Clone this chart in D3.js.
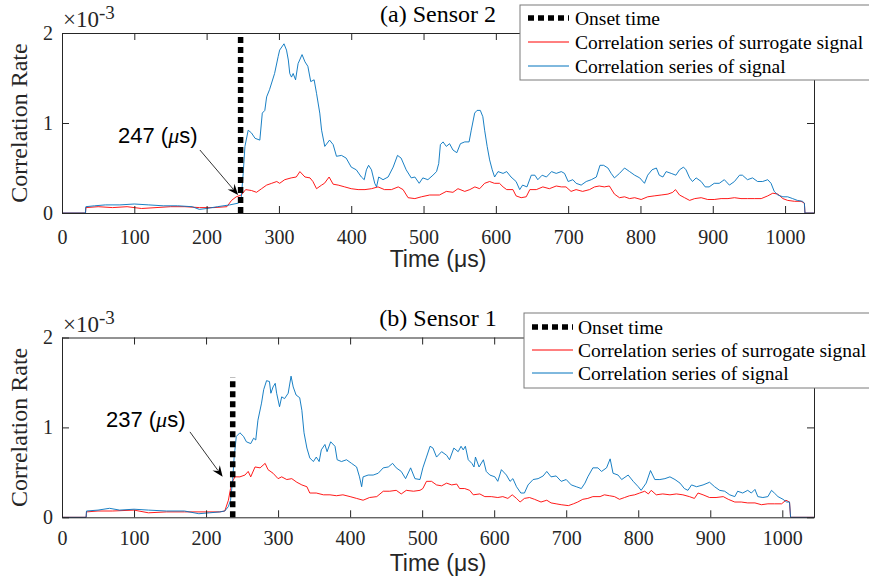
<!DOCTYPE html>
<html>
<head>
<meta charset="utf-8">
<script src="https://cdn.jsdelivr.net/npm/d3@7/dist/d3.min.js"></script>
<style>
  html, body { margin: 0; padding: 0; background: #fff; }
  svg { display: block; }
</style>
</head>
<body>
<svg id="chart" width="869" height="583"></svg>
<script>
// ---------------- DATA (values in units of 1e-3) ----------------
const xTicks = [0, 100, 200, 300, 400, 500, 600, 700, 800, 900, 1000];
const yTicks = [0, 1, 2];
const panelTitles = ["(a) Sensor 2", "(b) Sensor 1"];
const onsetTimes = [247, 237];
const onsetTops = [2, 1.56];
const legendLabels = ["Onset time", "Correlation series of surrogate signal", "Correlation series of signal"];

// Sensor 2 : correlation series of signal
const s2Signal = [[0,0],[32.5,0],[33,0.07],[45,0.08],[60,0.09],[80,0.09],[100,0.10],[120,0.09],[140,0.08],[160,0.08],[180,0.07],[190,0.04],[200,0.05],[215,0.07],[232,0.09],[244,0.11],[248,0.18],[250.6,0.44],[253,0.74],[257.5,0.92],[262,0.89],[267,0.83],[273.6,0.81],[277,1.11],[280.5,1.14],[283,1.29],[287,1.37],[294,1.55],[299,1.74],[301,1.81],[307,1.88],[310.5,1.81],[313,1.70],[315,1.55],[317.4,1.51],[319.7,1.55],[323,1.48],[326.5,1.66],[332,1.76],[336,1.68],[340,1.63],[344,1.46],[348.7,1.48],[352,1.33],[356.5,1.11],[359,0.92],[363.4,0.74],[370,0.81],[375,0.76],[379.6,0.63],[386.5,0.64],[393,0.61],[400,0.51],[407,0.48],[414,0.40],[418,0.37],[421,0.48],[424,0.53],[428,0.48],[432.5,0.33],[435,0.29],[438,0.40],[444,0.37],[451,0.40],[458,0.51],[464,0.64],[469,0.61],[476,0.48],[483,0.39],[488,0.40],[494,0.33],[499,0.39],[506,0.37],[513,0.42],[518,0.46],[521,0.55],[523.3,0.76],[527,0.79],[531.5,0.74],[536,0.77],[540.7,0.70],[546,0.67],[551,0.77],[557,0.79],[563,0.79],[566,0.92],[570.7,1.11],[574,1.14],[578.5,1.14],[582,1.07],[584.5,0.92],[588,0.74],[591.4,0.59],[595,0.48],[598.3,0.40],[603,0.46],[610,0.44],[615,0.46],[621,0.40],[628,0.35],[633,0.26],[637,0.31],[643,0.29],[649,0.42],[654,0.42],[658,0.37],[664,0.42],[670,0.40],[677,0.46],[683.5,0.44],[690.5,0.46],[695,0.44],[700,0.35],[706.5,0.37],[711,0.33],[718,0.31],[725,0.35],[732,0.37],[739,0.40],[744,0.53],[749,0.53],[755,0.50],[759.5,0.44],[764,0.39],[771,0.44],[778,0.50],[785,0.46],[792,0.42],[799,0.39],[805.6,0.33],[810,0.42],[816,0.48],[822,0.50],[826,0.42],[831,0.40],[835.5,0.46],[842.5,0.44],[849,0.42],[854,0.48],[859.5,0.51],[863,0.48],[868,0.39],[872,0.35],[877,0.39],[884,0.35],[889.5,0.29],[895,0.29],[902,0.33],[909,0.33],[916,0.37],[923,0.31],[930,0.35],[937,0.42],[941,0.42],[948,0.37],[955,0.39],[962,0.35],[969,0.35],[976,0.37],[980.6,0.33],[985,0.24],[990,0.20],[997,0.18],[1003.6,0.18],[1010.5,0.16],[1017,0.14],[1024,0.13],[1026.7,0.11],[1027.5,0],[1040,0]];

// Sensor 2 : correlation series of surrogate signal
const s2Surrogate = [[0,0],[32.5,0],[33,0.06],[50,0.07],[70,0.06],[90,0.07],[110,0.05],[130,0.06],[150,0.07],[170,0.07],[190,0.06],[210,0.06],[228,0.07],[234.5,0.14],[241,0.18],[248,0.20],[254,0.26],[262,0.25],[269,0.23],[276,0.27],[283,0.31],[290,0.33],[297,0.35],[301,0.33],[308,0.37],[317,0.39],[324,0.40],[329,0.46],[336,0.40],[343,0.39],[347,0.35],[352,0.27],[359,0.31],[363,0.33],[369.4,0.40],[375,0.32],[382,0.31],[391,0.29],[400,0.27],[409.5,0.26],[419,0.26],[428,0.27],[437,0.29],[446,0.26],[455.6,0.26],[465,0.29],[471.7,0.26],[478.6,0.17],[488,0.16],[497,0.18],[508.5,0.20],[522,0.20],[531.5,0.24],[540.7,0.23],[547.6,0.27],[557,0.24],[564,0.26],[571,0.29],[577.6,0.27],[584.5,0.33],[591.4,0.35],[598,0.33],[605,0.33],[610,0.29],[615,0.26],[623.6,0.26],[628,0.19],[635,0.17],[642,0.18],[647,0.26],[656,0.26],[665,0.29],[674,0.27],[683.5,0.30],[690.5,0.29],[697,0.29],[704,0.24],[711,0.26],[720,0.24],[729.6,0.26],[736.5,0.29],[743,0.30],[750,0.29],[757,0.30],[764,0.21],[771,0.17],[778,0.18],[785,0.16],[792,0.17],[801,0.15],[810,0.18],[819,0.19],[828.6,0.20],[838,0.21],[844.7,0.23],[848.4,0.26],[854,0.20],[861,0.17],[868,0.14],[875,0.16],[884,0.17],[893,0.15],[902,0.15],[911.5,0.16],[921,0.16],[930,0.17],[939,0.16],[948,0.16],[957.5,0.16],[967,0.16],[976,0.19],[983,0.22],[990,0.21],[997,0.16],[1003.6,0.14],[1013,0.13],[1022,0.13],[1026.7,0.11],[1027.5,0],[1040,0]];

// Sensor 1 : correlation series of signal
const s1Signal = [[0,0],[33.5,0],[34,0.07],[50,0.08],[66,0.10],[80,0.08],[100,0.09],[120,0.08],[145,0.07],[170,0.07],[190,0.04],[205,0.05],[219,0.06],[226,0.07],[231,0.12],[234,0.19],[237,0.42],[239,0.67],[242,0.90],[247,0.94],[252,0.90],[256,0.84],[262,0.82],[266,0.88],[269,0.86],[272,1.08],[277,1.27],[280,1.42],[284,1.52],[288,1.51],[290,1.38],[293,1.45],[296,1.49],[298,1.38],[302,1.23],[305,1.34],[309,1.32],[314,1.38],[318,1.57],[321,1.45],[325,1.36],[330,1.33],[333,1.19],[336,0.94],[340,0.77],[344,0.66],[349,0.62],[353,0.67],[357,0.62],[360,0.75],[365,0.81],[368,0.73],[373,0.84],[379,0.79],[382,0.64],[388,0.62],[395,0.64],[402,0.60],[409,0.56],[413,0.45],[416,0.34],[418,0.45],[425,0.47],[432,0.47],[439,0.49],[446,0.55],[453,0.56],[459,0.60],[464,0.55],[471,0.51],[477,0.43],[484,0.55],[490,0.43],[497,0.42],[501,0.55],[506,0.67],[511,0.79],[515,0.77],[520,0.67],[527,0.73],[534,0.69],[538,0.64],[544,0.77],[550,0.73],[554,0.79],[557,0.75],[560,0.79],[564,0.64],[569,0.60],[572,0.56],[574,0.67],[579,0.56],[585,0.64],[589,0.51],[594,0.47],[601,0.45],[605,0.40],[610,0.53],[617,0.47],[622,0.40],[626,0.43],[631,0.34],[637,0.27],[642,0.27],[647,0.36],[654,0.42],[661,0.43],[668,0.46],[673,0.51],[679,0.45],[686,0.46],[693,0.40],[700,0.42],[707,0.36],[714,0.34],[721,0.32],[726,0.38],[730,0.45],[737,0.55],[744,0.55],[749,0.51],[756,0.55],[761,0.65],[765,0.49],[772,0.47],[777,0.42],[786,0.47],[793,0.40],[800,0.34],[804,0.30],[811,0.38],[817,0.52],[823,0.42],[830,0.42],[837,0.43],[844,0.45],[851,0.42],[858,0.38],[864,0.32],[869,0.30],[874,0.36],[881,0.34],[890,0.36],[899,0.39],[906,0.34],[913,0.30],[920,0.29],[927,0.25],[934,0.23],[938,0.29],[945,0.27],[952,0.30],[957,0.27],[962,0.31],[966,0.23],[973,0.22],[980,0.23],[985,0.30],[989,0.27],[994,0.23],[1001,0.20],[1006,0.17],[1010,0.17],[1011.5,0],[1044,0]];

// Sensor 1 : correlation series of surrogate signal
const s1Surrogate = [[0,0],[33.5,0],[34,0.06],[50,0.07],[70,0.07],[100,0.08],[120,0.05],[145,0.06],[170,0.06],[200,0.06],[219,0.06],[226,0.07],[231,0.19],[234,0.32],[237,0.40],[240,0.45],[247,0.45],[254,0.47],[258.5,0.51],[262,0.45],[268,0.56],[275,0.55],[282,0.60],[286,0.53],[293,0.49],[300,0.43],[305,0.45],[312,0.42],[319,0.43],[326,0.39],[333,0.36],[340,0.34],[344,0.27],[353,0.27],[363,0.25],[372,0.25],[381,0.24],[390,0.25],[400,0.23],[409,0.21],[418,0.19],[427,0.22],[437,0.23],[446,0.29],[455,0.29],[464,0.30],[471,0.26],[478,0.30],[488,0.29],[497,0.30],[501,0.32],[506,0.40],[513,0.40],[520,0.36],[527,0.35],[534,0.38],[541,0.36],[548,0.37],[552,0.32],[559,0.32],[566,0.30],[571,0.25],[580,0.26],[587,0.23],[596,0.23],[605,0.22],[612,0.23],[619,0.21],[625,0.25],[631,0.21],[636,0.17],[642,0.21],[649,0.22],[656,0.20],[665,0.17],[673,0.19],[679,0.16],[686,0.15],[693,0.14],[703,0.13],[710,0.15],[716,0.17],[723,0.20],[730,0.21],[737,0.23],[747,0.23],[753,0.25],[760,0.24],[767,0.23],[774,0.20],[781,0.22],[788,0.24],[795,0.25],[802,0.27],[809,0.29],[814,0.26],[818,0.30],[825,0.25],[834,0.26],[844,0.25],[853,0.26],[862,0.25],[871,0.23],[878,0.21],[883,0.27],[890,0.25],[899,0.22],[908,0.22],[918,0.23],[925,0.20],[934,0.17],[943,0.17],[952,0.16],[962,0.16],[971,0.14],[980,0.15],[989,0.15],[999,0.15],[1005,0.19],[1010,0.17],[1011.5,0],[1044,0]];

const signals = [s2Signal, s1Signal];
const surrogates = [s2Surrogate, s1Surrogate];
const xMaxes = [1040, 1044];

// ---------------- LAYOUT ----------------
const layouts = [
  { top: 33, bottom: 213, left: 62, right: 814, tickPad: 17, titleY: 22,
    legend: { x: 520, y: 5, w: 352, h: 75, sx0: 528, sx1: 569, tx: 575, rows: [18, 42, 66] },
    annot: { tx: 77.5, ty: 0.78, ax0: 190.7, ay0: 0.70, ax1: 243.6, ay1: 0.20 } },
  { top: 337.5, bottom: 517.3, left: 62, right: 814, tickPad: 14, titleY: 326,
    legend: { x: 524, y: 313, w: 348, h: 75, sx0: 532, sx1: 573, tx: 578, rows: [327, 350, 373] },
    annot: { tx: 61, ty: 1.01, ax0: 177.6, ay0: 0.95, ax1: 223, ay1: 0.45 } }
];

const SERIF = "'Liberation Serif','Times New Roman',Times,serif";
const SANS = "'Liberation Sans',Arial,Helvetica,sans-serif";
const AXC = "#262626";
const RED = "#ff0000";
const BLUE = "#0072bd";

const svg = d3.select("#chart");
svg.append("rect").attr("width", 869).attr("height", 583).attr("fill", "#fff");

layouts.forEach((L, i) => {
  const x = d3.scaleLinear().domain([0, xMaxes[i]]).range([L.left, L.right]);
  const y = d3.scaleLinear().domain([0, 2]).range([L.bottom, L.top]);
  const g = svg.append("g");

  // data lines
  const line = d3.line().x(d => x(d[0])).y(d => y(d[1]));
  g.append("path").datum(surrogates[i]).attr("d", line)
    .attr("fill", "none").attr("stroke", RED).attr("stroke-width", 0.9);
  g.append("path").datum(signals[i]).attr("d", line)
    .attr("fill", "none").attr("stroke", BLUE).attr("stroke-width", 0.9);

  // axes (box with inward ticks)
  const styleAxis = sel => {
    sel.attr("font-family", null).attr("font-size", null);
    sel.select(".domain").attr("stroke", AXC).attr("stroke-width", 1);
    sel.selectAll(".tick line").attr("stroke", AXC).attr("stroke-width", 1);
    sel.selectAll(".tick text").attr("fill", AXC).style("font-family", SERIF).style("font-size", "20px");
  };
  g.append("g").attr("transform", `translate(0,${L.bottom})`)
    .call(d3.axisBottom(x).tickValues(xTicks).tickSizeInner(-7).tickSizeOuter(0).tickPadding(L.tickPad).tickFormat(d3.format("d")))
    .call(styleAxis);
  g.append("g").attr("transform", `translate(0,${L.top})`)
    .call(d3.axisTop(x).tickValues(xTicks).tickSizeInner(-7).tickSizeOuter(0).tickFormat(""))
    .call(styleAxis);
  g.append("g").attr("transform", `translate(${L.left},0)`)
    .call(d3.axisLeft(y).tickValues(yTicks).tickSizeInner(-7).tickSizeOuter(0).tickPadding(9).tickFormat(d3.format("d")))
    .call(styleAxis);
  g.append("g").attr("transform", `translate(${L.right},0)`)
    .call(d3.axisRight(y).tickValues(yTicks).tickSizeInner(-7).tickSizeOuter(0).tickFormat(""))
    .call(styleAxis);

  // onset line
  g.append("line")
    .attr("x1", x(onsetTimes[i])).attr("x2", x(onsetTimes[i]))
    .attr("y1", y(0)).attr("y2", y(onsetTops[i]))
    .attr("stroke", "#000").attr("stroke-width", 5.5)
    .attr("stroke-dasharray", "6,4");

  // exponent label
  const ex = g.append("text").attr("x", L.left + 1).attr("y", L.top - 6)
    .attr("fill", AXC).style("font-family", SERIF).style("font-size", "23px");
  ex.append("tspan").text("×10");
  ex.append("tspan").attr("dy", -8).style("font-size", "19px").text("-3");

  // y label
  g.append("text")
    .attr("transform", `translate(27,${(L.top + L.bottom) / 2}) rotate(-90)`)
    .attr("text-anchor", "middle").attr("fill", AXC)
    .style("font-family", SERIF).style("font-size", "24px")
    .text("Correlation Rate");

  // x label
  g.append("text")
    .attr("x", (L.left + L.right) / 2).attr("y", L.bottom + 54)
    .attr("text-anchor", "middle").attr("fill", AXC)
    .style("font-family", SANS).style("font-size", "23px")
    .text("Time (μs)");

  // annotation
  const A = L.annot;
  const at = g.append("text").attr("x", x(A.tx)).attr("y", y(A.ty))
    .attr("fill", "#000").style("font-family", SANS).style("font-size", "22px");
  at.append("tspan").text(onsetTimes[i] + " (");
  at.append("tspan").style("font-family", SERIF).style("font-style", "italic").text("μ");
  at.append("tspan").text("s)");
  const p0 = [x(A.ax0), y(A.ay0)], p1 = [x(A.ax1), y(A.ay1)];
  const dx = p1[0] - p0[0], dy = p1[1] - p0[1], len = Math.hypot(dx, dy);
  const ux = dx / len, uy = dy / len, nx = -uy, ny = ux;
  const HL = 11, HW = 4.5;
  g.append("line").attr("x1", p0[0]).attr("y1", p0[1])
    .attr("x2", p1[0] - ux * HL * 0.7).attr("y2", p1[1] - uy * HL * 0.7)
    .attr("stroke", "#000").attr("stroke-width", 0.8);
  const head = [
    [p1[0], p1[1]],
    [p1[0] - ux * HL + nx * HW, p1[1] - uy * HL + ny * HW],
    [p1[0] - ux * HL * 0.65, p1[1] - uy * HL * 0.65],
    [p1[0] - ux * HL - nx * HW, p1[1] - uy * HL - ny * HW]
  ];
  g.append("path").attr("d", "M" + head.map(p => p.join(",")).join("L") + "Z").attr("fill", "#000");

  // title
  g.append("text").attr("x", (L.left + L.right) / 2).attr("y", L.titleY)
    .attr("text-anchor", "middle").attr("fill", "#000")
    .style("font-family", SERIF).style("font-size", "24px")
    .text(panelTitles[i]);

  // legend
  const Lg = L.legend;
  const lg = g.append("g");
  lg.append("rect").attr("x", Lg.x).attr("y", Lg.y).attr("width", Lg.w).attr("height", Lg.h)
    .attr("fill", "#fff").attr("stroke", "#7a7a7a").attr("stroke-width", 1);
  const sampleStyles = [
    { c: "#000", w: 5.5, dash: "6,4" },
    { c: RED, w: 1, dash: null },
    { c: BLUE, w: 1, dash: null }
  ];
  legendLabels.forEach((lab, k) => {
    const s = sampleStyles[k];
    lg.append("line").attr("x1", Lg.sx0).attr("x2", Lg.sx1)
      .attr("y1", Lg.rows[k]).attr("y2", Lg.rows[k])
      .attr("stroke", s.c).attr("stroke-width", s.w).attr("stroke-dasharray", s.dash);
    lg.append("text").attr("x", Lg.tx).attr("y", Lg.rows[k] + 7)
      .attr("fill", "#000").style("font-family", SERIF).style("font-size", "19.5px")
      .text(lab);
  });
});
</script>
</body>
</html>
